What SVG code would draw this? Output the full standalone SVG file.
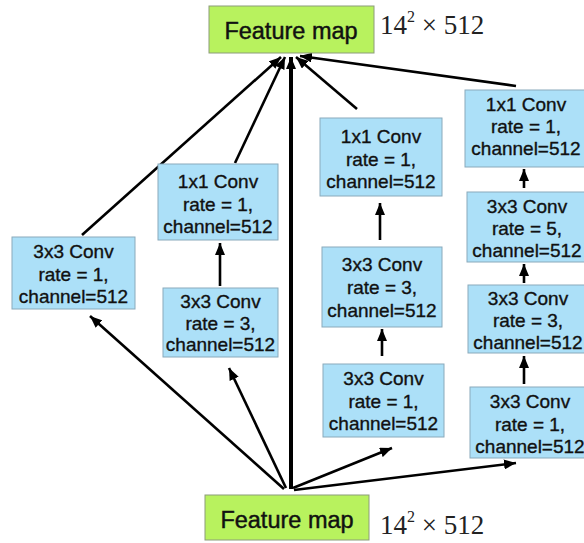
<svg xmlns="http://www.w3.org/2000/svg" width="584" height="543" viewBox="0 0 584 543">
  <style>
    .conv rect { fill: #ace0f8; stroke: #8aaabb; stroke-width: 1; }
    .conv text { font-family: "Liberation Sans", Arial, sans-serif; font-size: 19px; fill: #111; stroke: #111; stroke-width: 0.35; text-anchor: middle; }
    .fmap rect { fill: #b8f25e; stroke: #8c9c7a; stroke-width: 1; }
    .fmap text { font-family: "Liberation Sans", Arial, sans-serif; font-size: 23.5px; fill: #111; stroke: #111; stroke-width: 0.45; text-anchor: middle; }
    .dim { font-family: "Liberation Serif", "Times New Roman", serif; font-size: 27px; fill: #222; }
    .dim .sup { font-size: 16px; }
    .edge { stroke: #000; stroke-width: 2.6; fill: none; }
    .edge.trunk { stroke-width: 4; }
  </style>
  <defs>
    <marker id="head" viewBox="0 0 12 10" markerWidth="12" markerHeight="10" refX="12" refY="5" orient="auto" markerUnits="userSpaceOnUse">
      <path d="M0,0 L12,5 L0,10 z" fill="#000"/>
    </marker>
  </defs>

  <rect width="584" height="543" fill="#fff"/>

  <!-- connectors -->
  <g id="connectors">
    <!-- branch outputs into the top feature map -->
    <line class="edge" x1="82" y1="235" x2="281" y2="57" marker-end="url(#head)"/>
    <line class="edge" x1="235" y1="163" x2="285" y2="57" marker-end="url(#head)"/>
    <line class="edge trunk" x1="291" y1="489" x2="291" y2="57" marker-end="url(#head)"/>
    <line class="edge" x1="357" y1="109" x2="296" y2="57" marker-end="url(#head)"/>
    <line class="edge" x1="516" y1="86" x2="300" y2="56" marker-end="url(#head)"/>
    <!-- input feature map into each branch -->
    <line class="edge" x1="284" y1="489" x2="90" y2="316" marker-end="url(#head)"/>
    <line class="edge" x1="286" y1="488" x2="229" y2="368" marker-end="url(#head)"/>
    <line class="edge" x1="293" y1="488" x2="392" y2="448" marker-end="url(#head)"/>
    <line class="edge" x1="294" y1="490" x2="516" y2="463" marker-end="url(#head)"/>
    <!-- inside branches -->
    <line class="edge" x1="220" y1="286" x2="220" y2="243" marker-end="url(#head)"/>
    <line class="edge" x1="380" y1="240" x2="380" y2="203" marker-end="url(#head)"/>
    <line class="edge" x1="382" y1="356" x2="382" y2="329" marker-end="url(#head)"/>
    <line class="edge" x1="524" y1="188" x2="524" y2="169" marker-end="url(#head)"/>
    <line class="edge" x1="524" y1="283" x2="524" y2="264" marker-end="url(#head)"/>
    <line class="edge" x1="524" y1="384" x2="524" y2="356" marker-end="url(#head)"/>
  </g>

  <!-- feature maps -->
  <g id="fmap-out" class="fmap">
    <rect x="209" y="6" width="165" height="47"/>
    <text x="291" y="39">Feature map</text>
  </g>
  <text class="dim" x="380" y="34">14<tspan class="sup" dy="-12">2</tspan><tspan dy="12"> × 512</tspan></text>

  <g id="fmap-in" class="fmap">
    <rect x="205" y="495" width="164" height="45"/>
    <text x="287" y="528">Feature map</text>
  </g>
  <text class="dim" x="380" y="534">14<tspan class="sup" dy="-12">2</tspan><tspan dy="12"> × 512</tspan></text>

  <!-- branch 1 -->
  <g id="b1-conv3" class="conv">
    <rect x="12" y="237" width="123" height="72"/>
    <text x="73.5" y="258">3x3 Conv</text>
    <text x="73.5" y="281">rate = 1,</text>
    <text x="73.5" y="303">channel=512</text>
  </g>

  <!-- branch 2 -->
  <g id="b2-conv1" class="conv">
    <rect x="158" y="164" width="120" height="76"/>
    <text x="218" y="188">1x1 Conv</text>
    <text x="218" y="211">rate = 1,</text>
    <text x="218" y="233">channel=512</text>
  </g>
  <g id="b2-conv3" class="conv">
    <rect x="163" y="288" width="115" height="69"/>
    <text x="220.5" y="308">3x3 Conv</text>
    <text x="220.5" y="330">rate = 3,</text>
    <text x="220.5" y="351">channel=512</text>
  </g>

  <!-- branch 3 -->
  <g id="b3-conv1" class="conv">
    <rect x="320" y="118" width="122" height="78"/>
    <text x="381" y="143">1x1 Conv</text>
    <text x="381" y="166">rate = 1,</text>
    <text x="381" y="188">channel=512</text>
  </g>
  <g id="b3-conv3b" class="conv">
    <rect x="322" y="247" width="120" height="80"/>
    <text x="382" y="271">3x3 Conv</text>
    <text x="382" y="294">rate = 3,</text>
    <text x="382" y="317">channel=512</text>
  </g>
  <g id="b3-conv3a" class="conv">
    <rect x="323" y="364" width="121" height="73"/>
    <text x="383.5" y="385">3x3 Conv</text>
    <text x="383.5" y="408">rate = 1,</text>
    <text x="383.5" y="430">channel=512</text>
  </g>

  <!-- branch 4 -->
  <g id="b4-conv1" class="conv">
    <rect x="465" y="90" width="124" height="77"/>
    <text x="526" y="111">1x1 Conv</text>
    <text x="526" y="133">rate = 1,</text>
    <text x="526" y="155">channel=512</text>
  </g>
  <g id="b4-conv3c" class="conv">
    <rect x="467" y="192" width="124" height="70"/>
    <text x="527" y="213">3x3 Conv</text>
    <text x="527" y="235">rate = 5,</text>
    <text x="527" y="257">channel=512</text>
  </g>
  <g id="b4-conv3b" class="conv">
    <rect x="468" y="285" width="124" height="68"/>
    <text x="528" y="305">3x3 Conv</text>
    <text x="528" y="327">rate = 3,</text>
    <text x="528" y="349">channel=512</text>
  </g>
  <g id="b4-conv3a" class="conv">
    <rect x="470" y="387" width="124" height="71"/>
    <text x="530" y="408">3x3 Conv</text>
    <text x="530" y="431">rate = 1,</text>
    <text x="530" y="453">channel=512</text>
  </g>
</svg>
